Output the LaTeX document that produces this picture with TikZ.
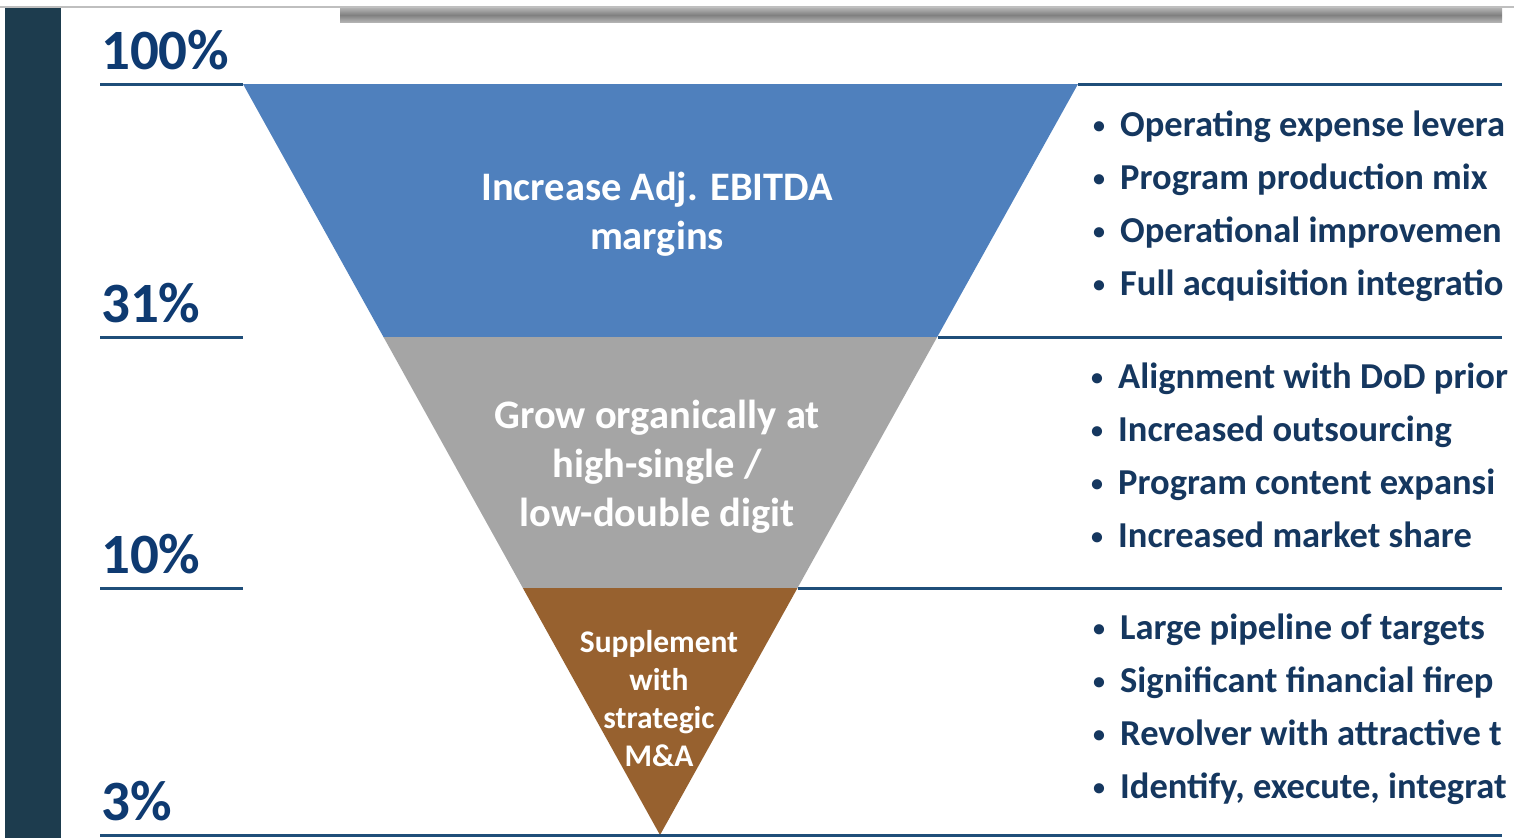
\documentclass[tikz,border=0pt]{standalone}
\usepackage{fontspec}
\setmainfont{Carlito}
\usepackage{tikz}
\usetikzlibrary{positioning,calc}

\definecolor{sidebar}{HTML}{1D3C4E}
\definecolor{rule}{HTML}{1F4E79}
\definecolor{pct}{HTML}{0E3A71}
\definecolor{bul}{HTML}{15375F}
\definecolor{tierA}{HTML}{4F80BD}
\definecolor{tierB}{HTML}{A5A5A5}
\definecolor{tierC}{HTML}{97612F}

\newcommand{\bulmark}{\makebox[27pt][l]{\fontsize{24}{24}\selectfont\raisebox{3pt}{•}}}

\tikzset{
  pctlabel/.style={anchor=base west, inner sep=0pt, text=pct,
    font=\bfseries\fontsize{57}{60}\selectfont},
  bulitem/.style={anchor=base west, inner sep=0pt, text=bul,
    font=\bfseries\fontsize{36.5}{40}\selectfont},
  tiertext/.style={align=center, text=white, inner sep=0pt,
    font=\bfseries\fontsize{40.5}{49}\selectfont}
}

\begin{document}
\begin{tikzpicture}[x=1pt,y=-1pt]
    \useasboundingbox (0,0) rectangle (1514,838);
    % Frame
    \fill[white] (0,0) rectangle (1514,838);
    \draw[black!25, line width=1.5pt] (0,7) -- (1514,7);
    \fill[sidebar] (5,8) rectangle (61,838);
    \shade[top color=black!30, bottom color=black!30, middle color=black!50] (340,8) rectangle (1502,22);
    % Funnel tiers
    \coordinate (tl) at (243,84);
    \coordinate (tr) at (1078,84);
    \coordinate (apex) at (660,835);
    \fill[tierA] (tl) -- (tr) -- ($(tr)!253/751!(apex)$) -- ($(tl)!253/751!(apex)$) -- cycle;
    \fill[tierB] ($(tl)!253/751!(apex)$) -- ($(tr)!253/751!(apex)$) -- ($(tr)!504/751!(apex)$) -- ($(tl)!504/751!(apex)$) -- cycle;
    \fill[tierC] ($(tl)!504/751!(apex)$) -- ($(tr)!504/751!(apex)$) -- (apex) -- cycle;
    % Rules and percentages
    \foreach \y/\lab/\nm in {84/100\%/p100, 337/31\%/p31, 588/10\%/p10, 835/3\%/p3} {
      \draw[rule, line width=3pt] (100,\y) -- (243,\y);
      \node[pctlabel] (\nm) at (101,\y-15) {\lab};
    }
    \foreach \y/\xa/\xb in {84/1078/1502, 337/938/1502, 588/798/1502} {
      \draw[rule, line width=3pt] (\xa,\y) -- (\xb,\y);
    }
    \draw[rule, line width=3pt] (243,835) -- (1502,835);
    % Tier texts
    \node[tiertext] (adj) at (657,214) {Increase Adj. EBITDA\\margins};
    \node[tiertext] (org) at (657,467) {Grow organically at\\high-single /\\low-double digit};
    \node[tiertext, font=\bfseries\fontsize{31.5}{38}\selectfont] (mna) at (659,699)
      {Supplement\\with\\strategic\\M\&A};
    % Bullet lists (cut at the right edge as printed)
    \foreach \y/\txt [count=\i] in {136/Operating expense levera, 189/Program production mix,
        242/Operational improvemen, 295/Full acquisition integratio} {
      \node[bulitem] (ba\i) at (1093,\y) {\bulmark\txt};
    }
    \foreach \y/\txt [count=\i] in {388/Alignment with DoD prior, 441/Increased outsourcing,
        494/Program content expansi, 547/Increased market share} {
      \node[bulitem] (bb\i) at (1091,\y) {\bulmark\txt};
    }
    \foreach \y/\txt [count=\i] in {639/Large pipeline of targets, 692/Significant financial firep,
        745/Revolver with attractive t, 798/{Identify, execute, integrat}} {
      \node[bulitem] (bc\i) at (1093,\y) {\bulmark\txt};
    }
  \end{tikzpicture}
\end{document}
